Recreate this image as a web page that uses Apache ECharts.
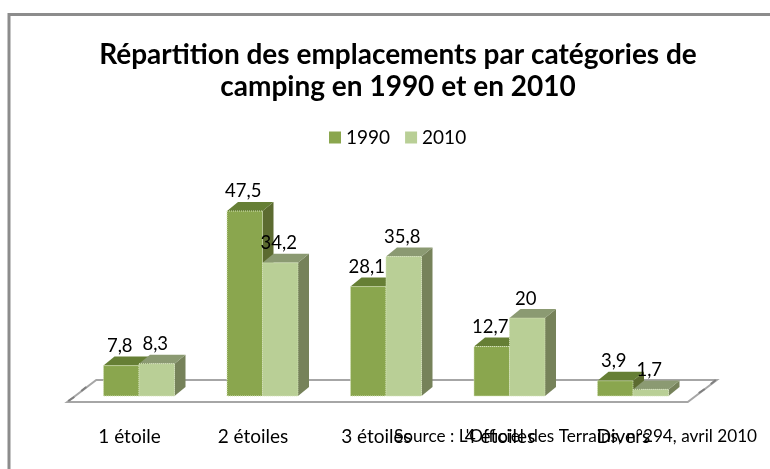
<!DOCTYPE html>
<html>
<head>
<meta charset="utf-8">
<style>
html, body { margin: 0; padding: 0; background: #fff; }
#chart { width: 770px; height: 469px; }
</style>
<script src="https://cdn.jsdelivr.net/npm/echarts@6/dist/echarts.min.js"></script>
</head>
<body>
<div id="chart"></div>
<script>
var categories = ['1 étoile', '2 étoiles', '3 étoiles', '4 étoiles', 'Divers'];
var values1990 = [7.8, 47.5, 28.1, 12.7, 3.9];
var values2010 = [8.3, 34.2, 35.8, 20, 1.7];
var labels1990 = ['7,8', '47,5', '28,1', '12,7', '3,9'];
var labels2010 = ['8,3', '34,2', '35,8', '20', '1,7'];

var FONT = 'Lato';
var DX = 11, DY = 9, BAR_W = 35.5;

// une barre "3D" : face, dessus, cote + etiquette
function bar3d(offset, labels, front, top, side) {
	return function (params, api) {
		var i = api.value(0);
		var base = api.coord([i, 0]);
		var head = api.coord([i, api.value(1)]);
		var x0 = base[0] + offset, x1 = x0 + BAR_W;
		var y0 = head[1], y1 = base[1];
		return {
			type: 'group',
			children: [
				{ type: 'polygon', shape: { points: [[x1, y0], [x1 + DX, y0 - DY], [x1 + DX, y1 - DY], [x1, y1]] }, style: { fill: side } },
				{ type: 'polygon', shape: { points: [[x0, y0], [x0 + DX, y0 - DY], [x1 + DX, y0 - DY], [x1, y0]] }, style: { fill: top } },
				{ type: 'rect', shape: { x: x0, y: y0, width: BAR_W, height: y1 - y0 }, style: { fill: front, stroke: '#d5e2ba', lineWidth: 1, lineDash: [1, 1] } },
				{ type: 'text', z2: 10, x: x0 + BAR_W / 2 - 1.5, y: y0 - DY - 10.5, style: { text: labels[i], fill: '#000', font: '18.5px ' + FONT, align: 'center', verticalAlign: 'middle' } }
			]
		};
	};
}

// plancher du graphique 3D
function floorItem(params) {
	var c = params.coordSys;
	var l = c.x, r = c.x + c.width, b = c.y + c.height;
	var mark = { stroke: '#7f7f7f', lineWidth: 2 };
	return {
		type: 'group',
		children: [
			{ type: 'polygon', shape: { points: [[l + 19, b - 16], [r + 22, b - 16], [r - 7, b + 6], [l - 10, b + 6]] }, style: { fill: '#fff', stroke: '#a6a6a6', lineWidth: 2 } },
			{ type: 'line', shape: { x1: l - 9, y1: b + 5, x2: l - 3, y2: b + 1 }, style: mark },
			{ type: 'line', shape: { x1: l + 4, y1: b - 5, x2: l + 9, y2: b - 9 }, style: mark },
			{ type: 'line', shape: { x1: r + 4, y1: b - 3, x2: r + 10, y2: b - 7 }, style: mark },
			{ type: 'line', shape: { x1: r + 16, y1: b - 12, x2: r + 21, y2: b - 16 }, style: mark }
		]
	};
}

var myChart = echarts.init(document.getElementById('chart'));
myChart.setOption({
	animation: false,
	backgroundColor: '#fff',
	title: {
		text: 'Répartition des emplacements par catégories de\ncamping en 1990 et en 2010',
		left: 393, top: 34, textAlign: 'center',
		textStyle: { fontFamily: FONT, fontSize: 28, fontWeight: 'bold', color: '#000', lineHeight: 32 }
	},
	legend: {
		data: ['1990', '2010'],
		left: 329, top: 128, padding: 0,
		icon: 'rect', itemWidth: 12, itemHeight: 12, itemGap: 15,
		textStyle: { fontFamily: FONT, fontSize: 19, color: '#000' }
	},
	grid: { left: 77.25, right: 75.25, top: 100, bottom: 73 },
	xAxis: {
		type: 'category',
		data: categories,
		axisLine: { show: false },
		axisTick: { show: false },
		axisLabel: { color: '#000', fontFamily: FONT, fontSize: 19, margin: 31, padding: [0, 19, 0, 0] }
	},
	yAxis: { type: 'value', min: 0, max: 76, show: false, splitLine: { show: false } },
	graphic: [
		{ type: 'rect', shape: { x: 9, y: 14.5, width: 800, height: 500 }, style: { fill: 'none', stroke: '#8c8c8c', lineWidth: 3 }, z: -1 },
		{ type: 'text', x: 394, y: 436, z: 10, style: { text: "Source : L'Officiel des Terrains, n°294, avril 2010", fill: '#000', font: '17.2px ' + FONT, verticalAlign: 'middle' } }
	],
	series: [
		{ name: 'plancher', type: 'custom', z: 1, silent: true, renderItem: floorItem, data: [0] },
		{
			name: '1990', type: 'custom', z: 2,
			itemStyle: { color: '#8aa64e' },
			renderItem: bar3d(-35.5, labels1990, '#8aa64e', '#667f35', '#5c6b30'),
			encode: { x: 0, y: 1 },
			data: values1990.map(function (v, i) { return [i, v]; })
		},
		{
			name: '2010', type: 'custom', z: 3,
			itemStyle: { color: '#b9cf96' },
			renderItem: bar3d(0, labels2010, '#b9cf96', '#8b9a72', '#76825a'),
			encode: { x: 0, y: 1 },
			data: values2010.map(function (v, i) { return [i, v]; })
		}
	]
});
</script>
</body>
</html>
